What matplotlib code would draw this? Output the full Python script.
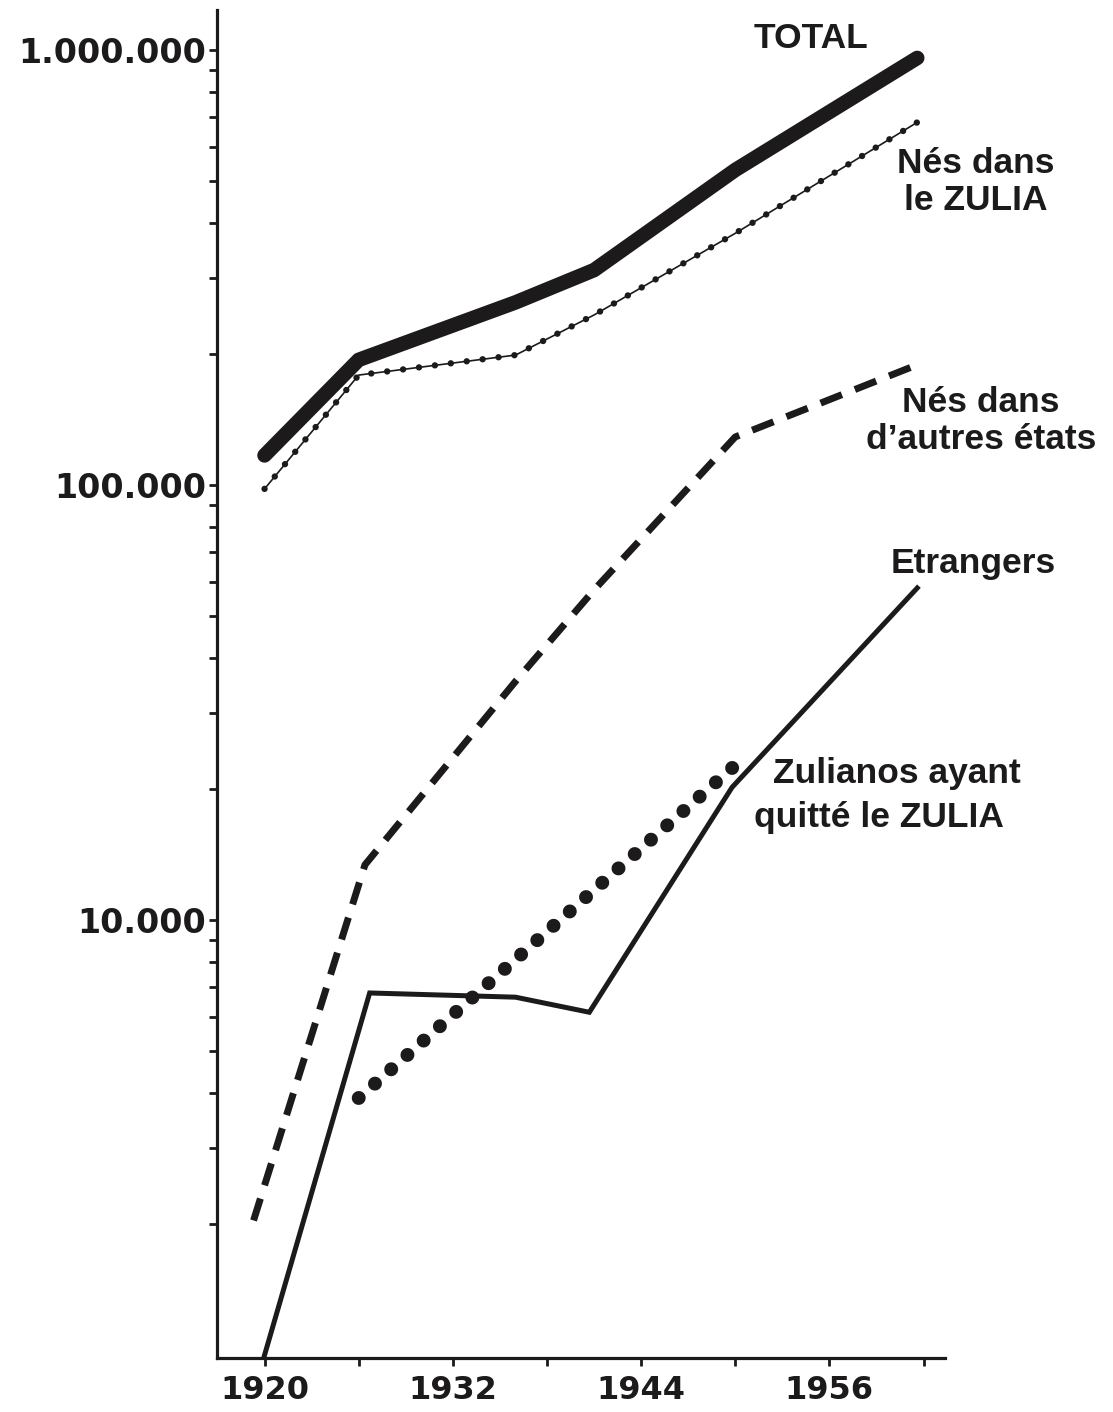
import matplotlib
matplotlib.use("Agg")
import matplotlib.pyplot as plt
from matplotlib.ticker import FixedLocator, LogLocator, NullFormatter

INK = "#1c1a1a"

# census years (last point as drawn on the original, a bit right of 1961)
census_years = [1920, 1926, 1936, 1941, 1950, 1961.6]

total = [117000, 194000, 263000, 312000, 530000, 959000]
nes_zulia = [98000, 179000, 199000, 246000, 379000, 682000]

etats_years = [1919.3, 1926.4, 1936, 1941, 1950, 1961.6]
nes_autres_etats = [2040, 13400, 35400, 57400, 129000, 189000]

etr_years = [1920, 1926.7, 1936, 1940.7, 1949.8, 1961.6]
etrangers = [1000, 6800, 6650, 6140, 20200, 58000]

quitte_years = [1926, 1950]
zulianos_quitte = [3900, 22700]

ytick_vals = [10000, 100000, 1000000]
ytick_labels = ["10.000", "100.000", "1.000.000"]
xtick_vals = [1920, 1926, 1932, 1938, 1944, 1950, 1956, 1962]
xtick_labels = ["1920", "", "1932", "", "1944", "", "1956", ""]

fig = plt.figure(figsize=(11.13, 14.12), dpi=100)
fig.patch.set_facecolor("white")
ax = fig.add_axes([217/1113, 1-1358/1412, (945-217)/1113, (1358-10)/1412])
ax.set_yscale("log")
ax.set_xlim(1916.97, 1963.37)
ax.set_ylim(985, 1.236e6)

# TOTAL - thick line
ax.plot(census_years, total, color=INK, lw=10.5, solid_capstyle="round",
        solid_joinstyle="round")

# Nes dans le ZULIA - thin line with beads
ax.plot(census_years, nes_zulia, color=INK, lw=1.2)
ax.plot(census_years, nes_zulia, color=INK, lw=4.6,
        linestyle=(0, (0.01, 2.5)), dash_capstyle="round")

# Nes dans d'autres etats - dashed
ax.plot(etats_years, nes_autres_etats, color=INK, lw=5.0,
        linestyle=(0, (3.3, 2.0)), dash_capstyle="butt")

# Etrangers - solid
ax.plot(etr_years, etrangers, color=INK, lw=3.6, solid_joinstyle="miter")

# Zulianos ayant quitte le ZULIA - big dots
ax.plot(quitte_years, zulianos_quitte, color=INK, lw=10.0,
        linestyle=(0, (0.01, 1.55)), dash_capstyle="round")

for s in ["top", "right"]:
    ax.spines[s].set_visible(False)
for s in ["left", "bottom"]:
    ax.spines[s].set_linewidth(2.3)
    ax.spines[s].set_color(INK)

ax.yaxis.set_major_locator(FixedLocator(ytick_vals))
ax.set_yticklabels(ytick_labels)
ax.yaxis.set_minor_locator(LogLocator(base=10, subs=[2, 3, 4, 5, 6, 7, 8, 9]))
ax.yaxis.set_minor_formatter(NullFormatter())
ax.tick_params(axis="y", which="both", direction="out", length=6, width=2,
               color=INK, pad=2)
ax.tick_params(axis="y", which="major", labelsize=24)

ax.set_xticks(xtick_vals)
ax.set_xticklabels(xtick_labels)
ax.tick_params(axis="x", direction="out", length=6, width=2, color=INK,
               pad=6, labelsize=23)

for lab in ax.get_yticklabels():
    lab.set_fontfamily("DejaVu Sans")
    lab.set_fontweight("bold")
    lab.set_color(INK)
for lab in ax.get_xticklabels():
    lab.set_fontfamily("DejaVu Sans")
    lab.set_fontweight("heavy")
    lab.set_color(INK)

txt = dict(fontsize=25.5, fontweight="bold", family="Liberation Sans",
           color=INK, transform=fig.transFigure, ha="center", va="center",
           linespacing=1.15)

def fx(px):
    return px / 1113

def fy(py):
    return 1 - py / 1412

fig.text(fx(811), fy(38), "TOTAL", **txt)
fig.text(fx(976), fy(182), "Nés dans\nle ZULIA", **txt)
fig.text(fx(981), fy(421), "Nés dans\nd’autres états", **txt)
fig.text(fx(973), fy(563), "Etrangers", **txt)
fig.text(fx(897), fy(773), "Zulianos ayant", **txt)
fig.text(fx(879), fy(817), "quitté le ZULIA", **txt)

fig.savefig("out.png", dpi=100, facecolor="white")
